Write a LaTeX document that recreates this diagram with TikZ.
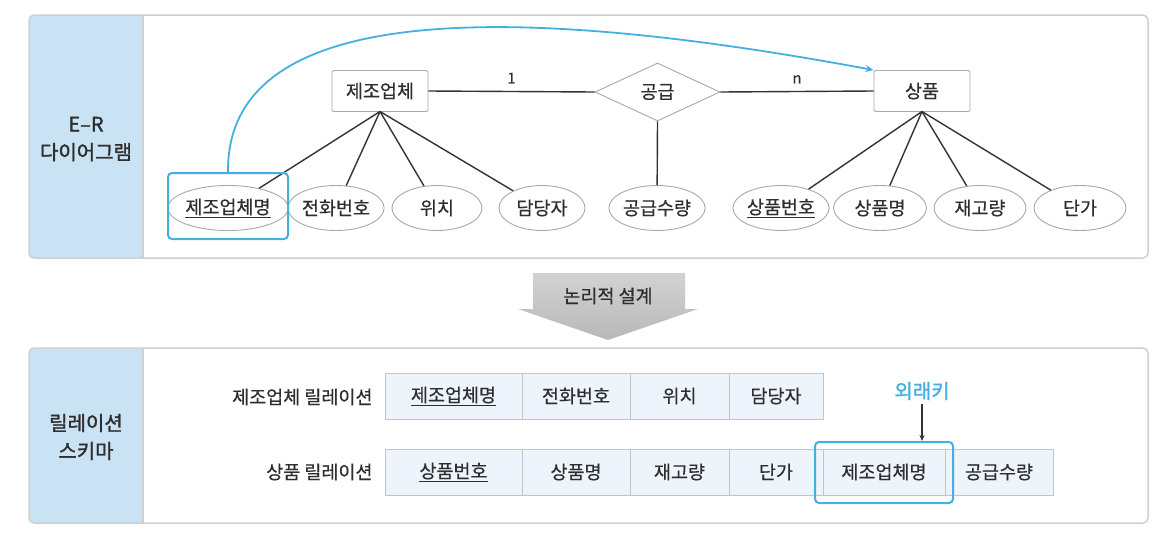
\documentclass[tikz,border=0pt]{standalone}
\usepackage{fontspec}
\setmainfont[FakeBold=0.4]{Noto Sans CJK KR}
\newfontfamily\krsemi[FakeBold=1.4]{Noto Sans CJK KR}
\usetikzlibrary{shapes.geometric,arrows.meta}
\definecolor{txt}{HTML}{2E2E2E}
\definecolor{panelline}{HTML}{D0D0D0}
\definecolor{colfill}{HTML}{C9E3F5}
\definecolor{shapeline}{HTML}{A8A8A8}
\definecolor{connline}{HTML}{333333}
\definecolor{cellfill}{HTML}{EDF4FB}
\definecolor{cellline}{HTML}{C4C4C4}
\definecolor{hl}{HTML}{45B0E0}
\definecolor{arrtop}{HTML}{D2D2D2}
\definecolor{arrbot}{HTML}{B8B8B8}
\tikzset{
  every node/.style={text=txt, font=\fontsize{18.5}{22}\selectfont},
  panelbox/.style={draw=panelline, line width=1.5pt, rounded corners=5pt},
  entitybox/.style={draw=shapeline, line width=0.9pt, rounded corners=2pt, minimum width=96pt, minimum height=41pt, inner sep=0pt},
  attr/.style={ellipse, draw=shapeline, line width=0.9pt, minimum height=45pt, inner sep=0pt},
  rel/.style={diamond, draw=shapeline, line width=0.9pt, minimum width=125pt, minimum height=58pt, inner sep=0pt},
  conn/.style={draw=connline, line width=1.4pt},
  cell/.style={draw=cellline, fill=cellfill, line width=0.9pt, minimum height=46pt, inner sep=0pt},
  hlbox/.style={draw=hl, line width=2pt, rounded corners=4pt, inner sep=0pt},
  sidelabel/.style={align=center, font=\krsemi\fontsize{20}{28}\selectfont},
}
\begin{document}
\begin{tikzpicture}[x=1pt,y=-1pt]
\useasboundingbox (0,0) rectangle (1164,544);
% ---------- panels
\begin{scope}
  \clip[rounded corners=5pt] (29,15) rectangle (1148,258);
  \fill[white] (29,15) rectangle (1148,258);
  \fill[colfill] (29,15) rectangle (143,258);
\end{scope}
\draw[panelline, line width=1.5pt] (143,15) -- (143,258);
\draw[panelbox] (29,15) rectangle (1148,258);
\begin{scope}
  \clip[rounded corners=5pt] (29,348) rectangle (1148,523);
  \fill[white] (29,348) rectangle (1148,523);
  \fill[colfill] (29,348) rectangle (143,523);
\end{scope}
\draw[panelline, line width=1.5pt] (143,348) -- (143,523);
\draw[panelbox] (29,348) rectangle (1148,523);

\node[sidelabel] (erlabel) at (86,139) {E–R\\다이어그램};
\node[sidelabel] (rslabel) at (86,437) {릴레이션\\스키마};

% ---------- E-R diagram
\node[entitybox] (mfr) at (380,91) {제조업체};
\node[entitybox] (prod) at (922,91) {상품};
\node[rel] (supply) at (657.5,92) {공급};

\draw[conn] (mfr.east) -- node[above=4pt, font=\fontsize{15}{17}\selectfont] (one) {1} (supply.west);
\draw[conn] (supply.east) -- node[above=4pt, font=\fontsize{15}{17}\selectfont] (many) {n} (prod.west);

\node[attr, minimum width=106pt] (a1) at (228,208) {\underline{제조업체명}};
\node[attr, minimum width=88pt] (a2) at (336,208) {전화번호};
\node[attr, minimum width=90pt] (a3) at (437,208) {위치};
\node[attr, minimum width=86pt] (a4) at (542,208) {담당자};
\node[attr, minimum width=89pt] (q) at (657,208) {공급수량};
\node[attr, minimum width=92pt] (b1) at (781,208) {\underline{상품번호}};
\node[attr, minimum width=93pt] (b2) at (880,208) {상품명};
\node[attr, minimum width=92pt] (b3) at (980,208) {재고량};
\node[attr, minimum width=92pt] (b4) at (1080,208) {단가};

\coordinate (mfrb) at (380,111.5);
\coordinate (prodb) at (922,111.5);
\foreach \t in {a1,a2,a3,a4} \draw[conn] (mfrb) -- (\t);
\foreach \t in {b1,b2,b3,b4} \draw[conn] (prodb) -- (\t);
\draw[conn] (supply.south) -- (q);

\node[hlbox, minimum width=120pt, minimum height=66pt] (pkbox) at (228,206) {};
\draw[hl, line width=1.8pt, -{Stealth[length=8pt,width=7pt]}]
  (pkbox.north) .. controls (226,-8) and (540,8) .. (prod.north west);

% ---------- block arrow
\shade[top color=arrtop, bottom color=arrbot]
  (533,273) -- (685,273) -- (685,309) -- (698,309) -- (608,340) -- (518,309) -- (533,309) -- cycle;
\node (logic) at (608,296) {논리적 설계};

% ---------- relation schema
\node[anchor=east] (r1label) at (376,397) {제조업체 릴레이션};
\node[anchor=east] (r2label) at (376,472) {상품 릴레이션};

\node[cell, minimum width=137pt] (c11) at (453.5,396) {\underline{제조업체명}};
\node[cell, minimum width=108pt] (c12) at (576,396) {전화번호};
\node[cell, minimum width=99pt] (c13) at (679.5,396) {위치};
\node[cell, minimum width=94pt] (c14) at (776,396) {담당자};

\node[cell, minimum width=137pt] (c21) at (453.5,472) {\underline{상품번호}};
\node[cell, minimum width=108pt] (c22) at (576,472) {상품명};
\node[cell, minimum width=99pt] (c23) at (679.5,472) {재고량};
\node[cell, minimum width=94pt] (c24) at (776,472) {단가};
\node[cell, minimum width=122pt] (c25) at (884,472) {제조업체명};
\node[cell, minimum width=108pt] (c26) at (999,472) {공급수량};

\node[hlbox, minimum width=138pt, minimum height=61pt] (fkbox) at (884,472.5) {};
\node[text=hl, font=\krsemi\fontsize{20}{22}\selectfont] (fk) at (922,391) {외래키};
\draw[connline, line width=1.2pt, -{Stealth[length=6pt,width=5pt]}] (fk.south) -- (fk.south |- fkbox.north);
\end{tikzpicture}
\end{document}
